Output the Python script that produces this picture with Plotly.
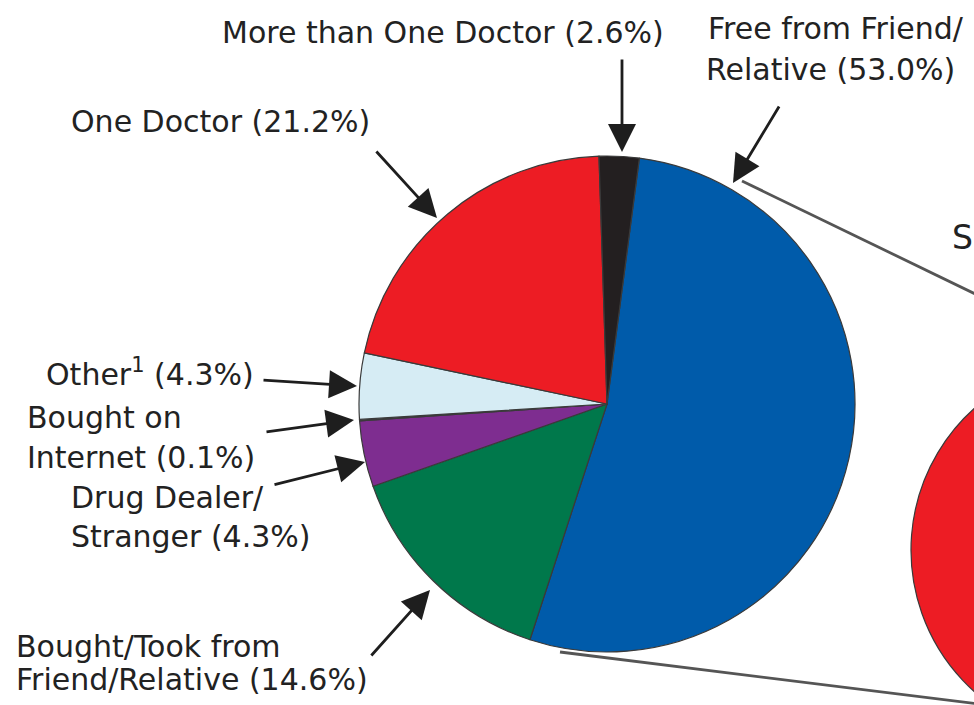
import plotly.graph_objects as go

# ---- data ----
source_labels = ["Free from Friend/Relative", "Bought/Took from Friend/Relative",
                 "Drug Dealer/Stranger", "Bought on Internet", "Other", "One Doctor",
                 "More than One Doctor"]
source_values = [53.0, 14.6, 4.3, 0.1, 4.3, 21.2, 2.6]
source_colors = ["#005BAA", "#00784B", "#7E2D90", "#4a4a4a", "#D6ECF4", "#ED1C24", "#231F20"]

# second pie (only its red "One Doctor" part is visible in the picture; rest estimated)
friend_labels = ["One Doctor", "More than One Doctor", "Free from Friend/Relative",
                 "Bought/Took from Friend/Relative", "Drug Dealer/Stranger",
                 "Bought on Internet", "Other"]
friend_values = [83.8, 3.3, 4.0, 2.5, 1.5, 0.2, 4.7]
friend_colors = ["#ED1C24", "#231F20", "#005BAA", "#00784B", "#7E2D90", "#4a4a4a", "#D6ECF4"]

# ---- geometry helpers (page is wider/taller than the window, as in the cropped original) ----
W, H = 1320, 760
def px(x):
    return x / W
def py(y):
    return 1 - y / H

FONT = "DejaVu Sans"
TXT = "#222222"

fig = go.Figure()
fig.add_trace(go.Pie(
    labels=source_labels, values=source_values, sort=False, direction="clockwise",
    rotation=7.5, textinfo="none", hoverinfo="label+percent",
    marker=dict(colors=source_colors, line=dict(color="#3a3a3a", width=1.2)),
    domain=dict(x=[px(359), px(855)], y=[py(652), py(156)]),
))
fig.add_trace(go.Pie(
    labels=friend_labels, values=friend_values, sort=False, direction="clockwise",
    rotation=150, textinfo="none", hoverinfo="label+percent",
    marker=dict(colors=friend_colors, line=dict(color="#3a3a3a", width=1.2)),
    domain=dict(x=[px(911), px(1291)], y=[py(740), py(360)]),
))

annotations = []
def label(text, x, y, anchor="left", size=30):
    annotations.append(dict(text=text, x=px(x), y=py(y), xref="paper", yref="paper",
                            xanchor=anchor, yanchor="middle", showarrow=False,
                            font=dict(family=FONT, size=size, color=TXT)))

def arrow(tx, ty, hx, hy):
    annotations.append(dict(text="", x=px(hx), y=py(hy), xref="paper", yref="paper",
                            ax=tx - hx, ay=ty - hy, axref="pixel", ayref="pixel",
                            showarrow=True, arrowhead=2, arrowsize=2.0, arrowwidth=2.8,
                            arrowcolor="#1e1e1e", standoff=0, startstandoff=0))

label("More than One Doctor (2.6%)", 443, 33, anchor="center")
label("Free from Friend/", 706, 29)
label("Relative (53.0%)", 704, 70)
label("One Doctor (21.2%)", 69, 122)
label("Other<sup>1</sup> (4.3%)", 44, 372)
label("Bought on", 25, 417)
label("Internet (0.1%)", 25, 457)
label("Drug Dealer/", 69, 497)
label("Stranger (4.3%)", 69, 536)
label("Bought/Took from", 14, 646)
label("Friend/Relative (14.6%)", 14, 679)
label("Source Where Friend/Relative Obtained", 950, 238, size=33)

arrow(622, 58, 622, 152)
arrow(780, 105, 733, 183)
arrow(375, 150, 437, 218)
arrow(262, 380, 357, 386)
arrow(265, 432, 354, 420)
arrow(273, 485, 365, 462)
arrow(370, 657, 430, 590)

shapes = [
    dict(type="line", xref="paper", yref="paper", x0=px(742), y0=py(181), x1=px(1062), y1=py(336),
         line=dict(color="#555555", width=2.8)),
    dict(type="line", xref="paper", yref="paper", x0=px(560), y0=py(652), x1=px(1060), y1=py(714),
         line=dict(color="#555555", width=2.8)),
]

fig.update_layout(
    width=W, height=H, autosize=False,
    margin=dict(l=0, r=0, t=0, b=0),
    paper_bgcolor="white", plot_bgcolor="white",
    showlegend=False, annotations=annotations, shapes=shapes,
)

fig.write_html("out.html", post_script=(
    "document.documentElement.style.overflow='hidden';"
    "document.body.style.overflow='hidden';"
    "document.body.style.margin='0';"))
